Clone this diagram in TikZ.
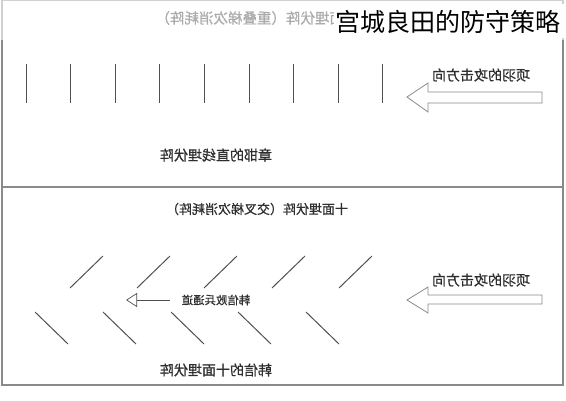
\documentclass[tikz,border=0pt]{standalone}
\usepackage{fontspec}
\newfontfamily\cjk{Noto Sans CJK SC}
\newfontfamily\cjkb[FakeBold=0.7]{Noto Sans CJK SC}
\usetikzlibrary{arrows.meta}
\definecolor{ink}{HTML}{2E2E2E}
\definecolor{frameg}{HTML}{8A8A8A}
\definecolor{lineg}{HTML}{505050}
\newcommand{\mir}[1]{\scalebox{-1}[1]{#1}}
\tikzset{
  mtext/.style={inner sep=0pt, text=ink, font=\cjkb\fontsize{14}{14}\selectfont},
  htext/.style={inner sep=0pt, text=ink, font=\cjkb\fontsize{13}{13}\selectfont},
  stext/.style={inner sep=0pt, text=ink, font=\cjkb\fontsize{11.4}{12}\selectfont},
  post/.style={draw=lineg, line width=1pt},
  bigarrow/.style={draw=frameg, line width=0.8pt, fill=white},
  framel/.style={draw=frameg, line width=1.1pt},
}
\begin{document}
\begin{tikzpicture}[x=1pt,y=-1pt]
\useasboundingbox (0,0) rectangle (566,400);
\fill[white] (0,0) rectangle (566,400);
% frame
\draw[framel] (2,0.5) rectangle (563,385);
\draw[framel] (2,187) -- (563,187);
% top grey title (partly under overlay)
\node[htext, font=\cjkb\fontsize{14.5}{14.5}\selectfont] (toptitle) at (257,18) {\mir{十面埋伏阵（重叠梯次消耗阵）}};
% top section: vertical posts
\foreach \i in {0,...,8} {
  \coordinate (pt\i) at ({26+44.6*\i},64);
  \coordinate (pb\i) at ({26+44.6*\i},103);
  \draw[post] (pt\i) -- (pb\i);
}
\node[mtext] (dirA) at (481,75) {\mir{项羽的攻击方向}};
\draw[bigarrow] (407,97) -- (428,83) -- (428,92) -- (542,92) -- (542,103) -- (428,103) -- (428,112) -- cycle;
\node[mtext] (capA) at (216,155) {\mir{章邯的直线埋伏阵}};
% bottom section
\node[htext] (titleB) at (257,209) {\mir{十面埋伏阵（交叉梯次消耗阵）}};
\foreach \x in {70,137,204,272,339} {
  \draw[post] (\x,288) -- ({\x+33},256);
}
\foreach \x in {35,103,171,238,306} {
  \draw[post] (\x,312) -- ({\x+33},344);
}
\node[mtext] (dirB) at (481,280) {\mir{项羽的攻击方向}};
\draw[bigarrow] (407,300) -- (428,287) -- (428,295) -- (542,295) -- (542,304) -- (428,304) -- (428,313) -- cycle;
\node[stext] (pass) at (216,300) {\mir{韩信败兵通道}};
\coordinate (passEnd) at (126,300);
\draw[draw=lineg, line width=0.7pt, -{Triangle[open, length=11pt, width=14pt]}, shorten <=12pt] (pass.west) -- (passEnd);
\node[mtext] (capB) at (216,370) {\mir{韩信的十面埋伏阵}};
% overlay banner and title
\fill[white, opacity=0.6] (0,0) rectangle (566,40);
\fill[white] (334,4) rectangle (566,38);
\node[inner sep=0pt, anchor=west, text=black, font=\cjk\fontsize{25}{25}\selectfont] (title) at (335,22) {宫城良田的防守策略};
\end{tikzpicture}
\end{document}
